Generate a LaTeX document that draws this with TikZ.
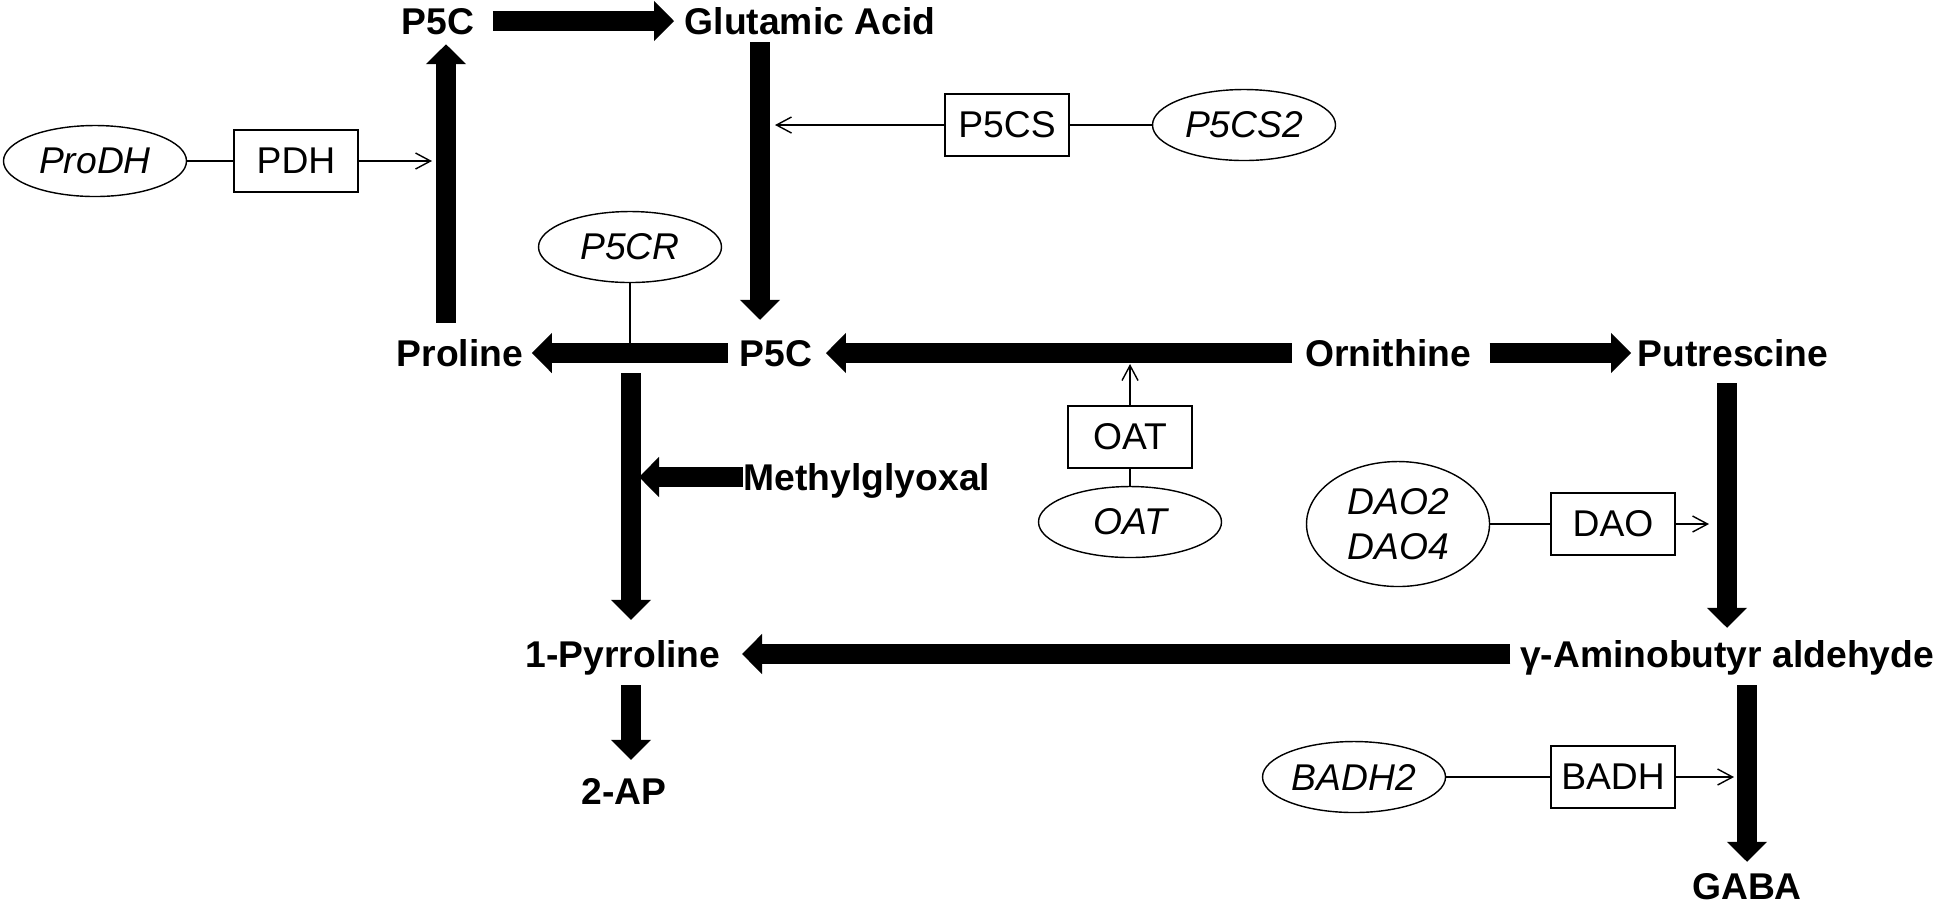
\documentclass[tikz,border=0pt]{standalone}
\usepackage{fontspec}
\setmainfont{Liberation Sans}
\usetikzlibrary{arrows.meta,shapes.geometric}

\begin{document}
\begin{tikzpicture}[
    font=\fontsize{10.6}{12.8}\selectfont,
    met/.style={font=\fontsize{10.6}{12.8}\selectfont\bfseries, inner sep=0pt, text height=0.27cm, text depth=0pt},
    enz/.style={draw, rectangle, minimum width=1.24cm, minimum height=0.62cm, inner sep=0.05cm},
    gene/.style={draw, ellipse, minimum width=1.83cm, minimum height=0.71cm, inner sep=0pt, font=\fontsize{10.6}{12.8}\selectfont\itshape},
    flux/.style={line width=0.2cm, -{Triangle[length=0.2cm, width=0.39cm]}},
    reg/.style={-{Straight Barb[length=0.15cm, width=0.16cm]}}
]
    \useasboundingbox (0,0) rectangle (19.44,-9.05);

    \node[met] (p5ctop) at (4.38,-0.21) {P5C};
    \node[met] (glu)    at (8.10,-0.21) {Glutamic Acid};
    \node[met] (pro)    at (4.60,-3.53) {Proline};
    \node[met] (p5c)    at (7.76,-3.53) {P5C};
    \node[met] (orn)    at (13.88,-3.53) {Ornithine};
    \node[met] (put)    at (17.33,-3.53) {Putrescine};
    \node[met] (mgo)    at (8.67,-4.77) {Methylglyoxal};
    \node[met] (pyr)    at (6.23,-6.54) {1-Pyrroline};
    \node[met] (gabald) at (17.27,-6.54) {γ-Aminobutyr aldehyde};
    \node[met] (ap)     at (6.24,-7.91) {2-AP};
    \node[met] (gaba)   at (17.47,-8.86) {GABA};

    \node[gene] (prodh)   at (0.95,-1.61) {ProDH};
    \node[enz]  (pdh)     at (2.96,-1.61) {PDH};
    \node[gene] (p5cr)    at (6.30,-2.47) {P5CR};
    \node[enz]  (p5cs)    at (10.07,-1.25) {P5CS};
    \node[gene] (p5cstwo) at (12.44,-1.25) {P5CS2};
    \node[enz]  (oat)     at (11.30,-4.37) {OAT};
    \node[gene] (oatgene) at (11.30,-5.22) {OAT};
    \node[gene, minimum height=1.25cm, align=center] (daogene) at (13.98,-5.24) {DAO2\\DAO4};
    \node[enz]  (dao)     at (16.13,-5.24) {DAO};
    \node[gene] (badhtwo) at (13.54,-7.77) {BADH2};
    \node[enz]  (badh)    at (16.13,-7.77) {BADH};

    \coordinate (fork)     at (6.31,-3.73);
    \coordinate (pdhtip)   at (4.32,-1.61);
    \coordinate (p5crend)  at (6.30,-3.43);
    \coordinate (p5cstip)  at (7.75,-1.25);
    \coordinate (oattip)   at (11.30,-3.64);
    \coordinate (daotip)   at (17.09,-5.24);
    \coordinate (badhtip)  at (17.34,-7.77);

    \draw[flux, shorten <=0.18cm, shorten >=0.10cm] (p5ctop) -- (glu);
    \draw[flux, shorten <=0.16cm, shorten >=0.09cm] ([xshift=0.08cm]pro.north -| p5ctop) -- ([xshift=0.08cm]p5ctop.south);
    \draw[flux, shorten <=0.07cm, shorten >=0.19cm] ([xshift=-0.16cm]p5c.north |- glu.south) -- ([xshift=-0.16cm]p5c.north);
    \draw[flux, shorten <=0.11cm, shorten >=0.08cm] (p5c) -- (pro);
    \draw[flux, shorten <=0.13cm, shorten >=0.13cm] (orn) -- (p5c);
    \draw[flux, shorten <=0.18cm, shorten >=0.06cm] (orn) -- (put);
    \draw[flux, shorten <=0.16cm, shorten >=0.12cm] (put.south -| gabald) -- (gabald);
    \draw[flux, shorten <=0.09cm, shorten >=0.21cm] (gabald) -- (pyr);
    \draw[flux, shorten >=0.20cm] (fork) -- (fork |- pyr.north);
    \draw[flux, shorten >=0.08cm] (mgo) -- (mgo -| fork);
    \draw[flux, shorten <=0.17cm, shorten >=0.17cm] (pyr.south -| fork) -- (ap.north -| fork);
    \draw[flux, shorten <=0.17cm, shorten >=0.10cm] (gabald.south -| gaba) -- (gaba);

    \draw (prodh) -- (pdh);
    \draw[reg] (pdh) -- (pdhtip);
    \draw (p5cr) -- (p5crend);
    \draw (p5cstwo) -- (p5cs);
    \draw[reg] (p5cs) -- (p5cstip);
    \draw (oatgene) -- (oat);
    \draw[reg] (oat) -- (oattip);
    \draw (daogene) -- (dao);
    \draw[reg] (dao) -- (daotip);
    \draw (badhtwo) -- (badh);
    \draw[reg] (badh) -- (badhtip);
\end{tikzpicture}
\end{document}
